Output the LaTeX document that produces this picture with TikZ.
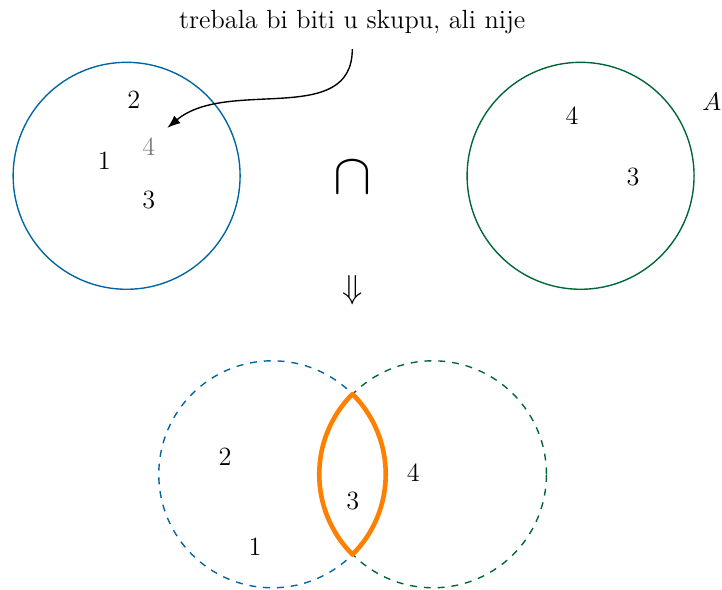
\documentclass[tikz,border=0pt]{standalone}
\usetikzlibrary{arrows.meta}
\definecolor{setblue}{RGB}{0,102,160}
\definecolor{setgreen}{RGB}{0,102,51}
\definecolor{lensorange}{RGB}{255,128,0}
\begin{document}
\begin{tikzpicture}[every node/.style={font=\fontsize{11.4}{14}\selectfont},
  setcirc/.style={circle, draw, semithick, minimum size=3.46cm, inner sep=0pt},
  elem/.style={inner sep=1pt}]
  \useasboundingbox (0,0) rectangle (11.006,-8.979);
  % gornji red: skupovi
  \node[setcirc, setblue] (setL) at (1.93,-2.68) {};
  \node[setcirc, setgreen] (setR) at (8.85,-2.68) {};
  \node[elem] (l2) at (2.04,-1.52) {2};
  \node[elem, gray] (g4) at (2.27,-2.24) {4};
  \node[elem] (l1) at (1.59,-2.45) {1};
  \node[elem] (l3) at (2.27,-3.05) {3};
  \node[elem] (r4) at (8.72,-1.77) {4};
  \node[elem] (r3) at (9.65,-2.70) {3};
  \node (lab) at (10.85,-1.55) {$A$};
  \node (op) at (5.37,-2.71) {\Huge$\cap$};
  \node (impl) at (5.37,-4.42) {\Large$\Downarrow$};
  % napomena
  \node (note) at (5.37,-0.34) {trebala bi biti u skupu, ali nije};
  \coordinate (tip) at (2.55,-1.95);
  \draw[semithick, -{Latex}] ([yshift=-3pt]note.south) to[out=-90, in=40] (tip);
  % donji red: presjek
  \node[setcirc, setblue, dashed] (botL) at (4.15,-7.23) {};
  \node[setcirc, setgreen, dashed] (botR) at (6.60,-7.23) {};
  \draw[lensorange, line width=2pt, line join=round]
    ([shift={(45:1.73)}]botL.center) arc[start angle=45, end angle=-45, radius=1.73]
    arc[start angle=-135, end angle=-225, radius=1.73] -- cycle;
  \node[elem] (b2) at (3.43,-6.97) {2};
  \node[elem] (b1) at (3.89,-8.34) {1};
  \node[elem] (b3) at (5.38,-7.64) {3};
  \node[elem] (b4) at (6.30,-7.20) {4};
\end{tikzpicture}
\end{document}
